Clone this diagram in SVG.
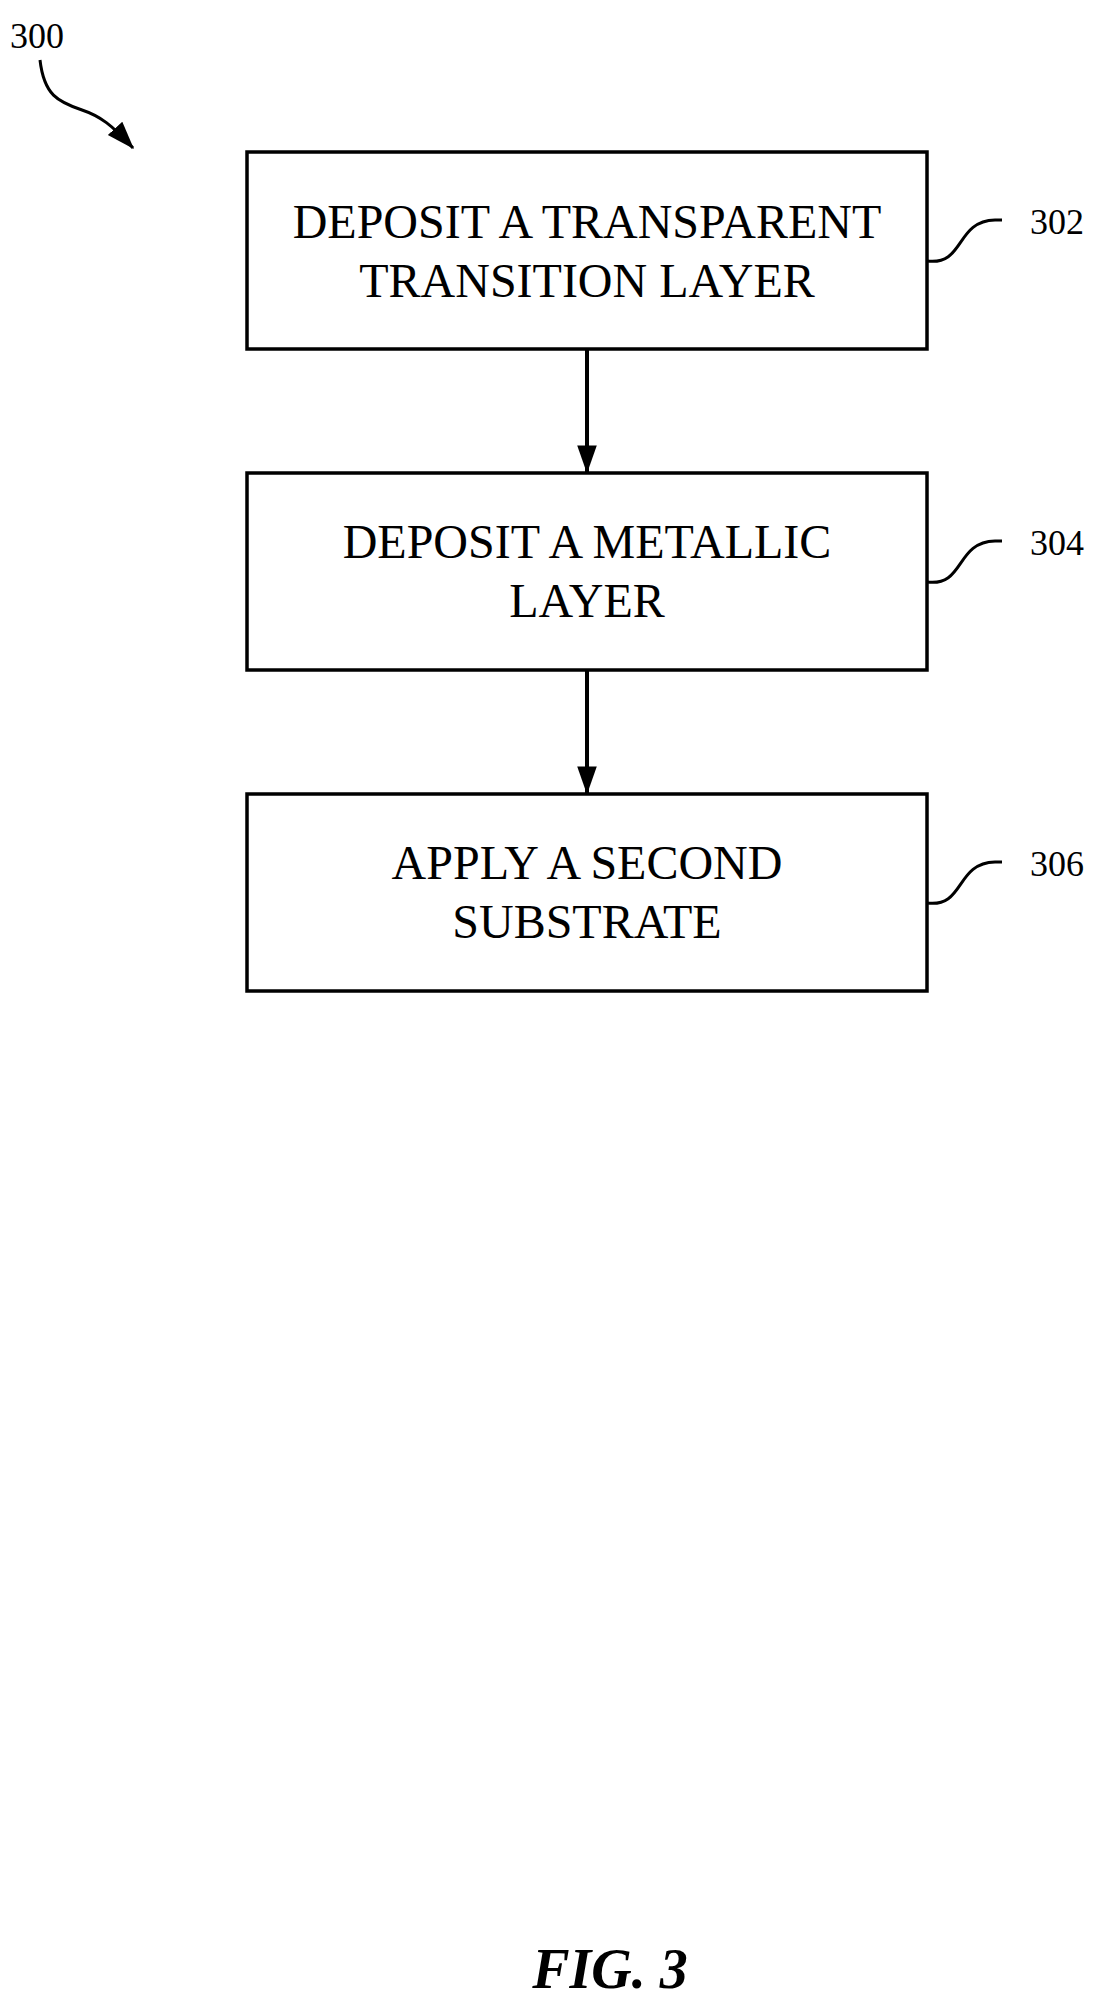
<svg xmlns="http://www.w3.org/2000/svg" width="1104" height="2000" viewBox="0 0 1104 2000">
<defs>
<style>
.box{fill:#fff;stroke:#000;stroke-width:3.5}
.t{font-family:"Liberation Serif",serif;font-size:48px;text-anchor:middle;fill:#000}
.l{font-family:"Liberation Serif",serif;font-size:36px;fill:#000}
.ln{fill:none;stroke:#000;stroke-width:3}
</style>
<marker id="ah" markerWidth="10" markerHeight="10" refX="9" refY="5" orient="auto" markerUnits="userSpaceOnUse" viewBox="0 0 10 10">
<path d="M0,0 L10,5 L0,10 z" fill="#000"/>
</marker>
<marker id="big" viewBox="0 0 20 20" refX="19" refY="10" markerWidth="28" markerHeight="28" orient="auto" markerUnits="userSpaceOnUse"><path d="M0,3 L20,10 L0,17 z" fill="#000"/></marker>
</defs>
<rect width="1104" height="2000" fill="#fff"/>
<g id="label300">
<text class="l" x="10" y="48">300</text>
<path class="ln" d="M40,60 C44,95 58,102 82,110 C100,116 112,125 133,148" marker-end="url(#big)"/>
</g>
<g id="n302">
<rect class="box" x="247" y="152" width="680" height="197"/>
<text class="t" x="587" y="238">DEPOSIT A TRANSPARENT</text>
<text class="t" x="587" y="297">TRANSITION LAYER</text>
<path class="ln" d="M927,261 C965,266 955,221 995,220 L1002,220"/>
<text class="l" x="1030" y="234">302</text>
</g>
<g id="n304">
<rect class="box" x="247" y="473" width="680" height="197"/>
<text class="t" x="587" y="558">DEPOSIT A METALLIC</text>
<text class="t" x="587" y="617">LAYER</text>
<path class="ln" d="M927,582 C965,587 955,542 995,541 L1002,541"/>
<text class="l" x="1030" y="555">304</text>
</g>
<g id="n306">
<rect class="box" x="247" y="794" width="680" height="197"/>
<text class="t" x="587" y="879">APPLY A SECOND</text>
<text class="t" x="587" y="938">SUBSTRATE</text>
<path class="ln" d="M927,903 C965,908 955,863 995,862 L1002,862"/>
<text class="l" x="1030" y="876">306</text>
</g>
<g id="connectors">
<path d="M587,349 V472" stroke="#000" stroke-width="4" fill="none" marker-end="url(#big)"/>
<path d="M587,670 V793" stroke="#000" stroke-width="4" fill="none" marker-end="url(#big)"/>
</g>
<text x="610" y="1988" font-family="Liberation Serif,serif" font-size="56" font-weight="bold" font-style="italic" text-anchor="middle">FIG. 3</text>
</svg>
